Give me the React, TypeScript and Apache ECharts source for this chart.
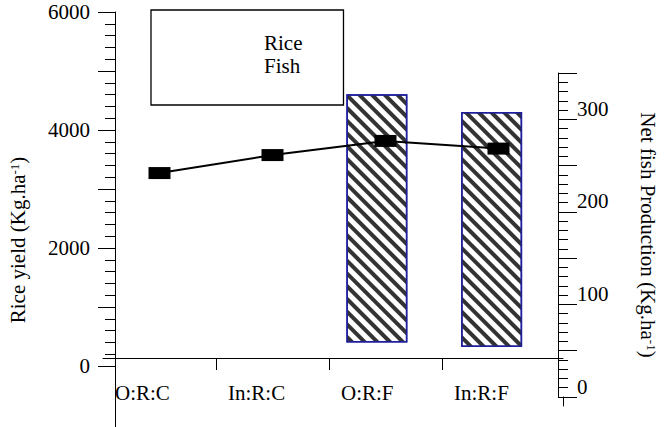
import React, { useEffect, useRef } from 'react';
import * as echarts from 'echarts';

const categories = ['O:R:C', 'In:R:C', 'O:R:F', 'In:R:F'];
const riceYield = [3270, 3575, 3815, 3685];
const fishLow: (number | null)[] = [null, null, 59, 54];
const fishHigh: (number | null)[] = [null, null, 327, 308];
const leftLabelStep = 2000;
const rightLabelStep = 100;

const FONT = 'Liberation Serif';

export default function App() {
  const ref = useRef<HTMLDivElement>(null);
  useEffect(() => {
    const chart = echarts.init(ref.current!, null, { renderer: 'svg' });
    const fishSpan = fishHigh.map((h, i) => {
      const l = fishLow[i];
      return h == null || l == null ? null : h - l;
    });
    const black = '#000';
    const txt = { fontFamily: FONT, fontSize: 21, color: black };
    chart.setOption({
      animation: false,
      backgroundColor: '#fff',
      grid: [
        { left: 103, right: 103, top: 12, bottom: 61 },
        { left: 90, right: 112, top: 73, bottom: 30 },
        { left: 115, width: 10, top: 366, bottom: 0 },
        { left: 553, width: 10, top: 397, height: 9 },
      ],
      legend: {
        data: [
          { name: 'Rice', itemStyle: { opacity: 0 }, lineStyle: { opacity: 0 } },
          { name: 'Fish', itemStyle: { opacity: 0, decal: 'none' } },
        ],
        orient: 'vertical',
        left: 151,
        top: 10,
        padding: [22, 41, 28, 107],
        itemGap: 1,
        itemWidth: 0,
        itemHeight: 1,
        icon: 'rect',
        selectedMode: false,
        borderColor: black,
        borderWidth: 1.3,
        itemStyle: { opacity: 0 },
        lineStyle: { opacity: 0 },
        textStyle: { ...txt, lineHeight: 22 },
      },
      xAxis: [
        {
          gridIndex: 0,
          type: 'value',
          min: 0,
          max: 460 / 113,
          offset: -8,
          axisLine: { show: true, onZero: false, lineStyle: { color: black, width: 1 } },
          splitLine: { show: false },
          axisTick: { show: true, customValues: [1, 2, 3], length: 12, lineStyle: { color: black } },
          axisLabel: {
            customValues: [0, 1, 2, 3],
            formatter: (v: number) => categories[Math.round(v)] ?? '',
            align: 'left',
            padding: [0, 0, 0, 12],
            margin: 24,
            ...txt,
          },
        },
        { gridIndex: 1, type: 'category', data: categories, show: false },
        { gridIndex: 2, type: 'value', show: false },
        { gridIndex: 3, type: 'value', show: false },
      ],
      yAxis: [
        {
          gridIndex: 0,
          type: 'value',
          position: 'left',
          min: 0,
          max: 6000,
          interval: 1000,
          offset: -12,
          axisLine: { show: true, onZero: false, lineStyle: { color: black, width: 1 } },
          axisTick: { show: true, length: 17, lineStyle: { color: black } },
          minorTick: { show: true, splitNumber: 5, length: 10, lineStyle: { color: black } },
          splitLine: { show: false },
          minorSplitLine: { show: false },
          axisLabel: {
            formatter: (v: number) => (v % leftLabelStep === 0 ? String(v) : ''),
            margin: 25,
            ...txt,
          },
        },
        {
          gridIndex: 1,
          type: 'value',
          position: 'right',
          min: 0,
          max: 350,
          interval: 50,
          offset: 9,
          axisLine: { show: true, onZero: false, lineStyle: { color: black, width: 1 } },
          axisTick: { show: true, length: 19, lineStyle: { color: black } },
          minorTick: { show: true, splitNumber: 5, length: 10, lineStyle: { color: black } },
          splitLine: { show: false },
          axisLabel: {
            formatter: (v: number) => (v % rightLabelStep === 0 ? String(v) : ''),
            verticalAlign: 'bottom',
            margin: 19,
            ...txt,
          },
          name: 'Net fish Production (Kg.ha{sup|-1})',
          nameLocation: 'middle',
          nameRotate: -90,
          nameGap: 79,
          nameTextStyle: {
            ...txt,
            rich: { sup: { fontFamily: FONT, fontSize: 13, verticalAlign: 'top', color: black } },
          },
        },
        {
          gridIndex: 2,
          type: 'value',
          position: 'left',
          axisLine: { show: true, onZero: false, lineStyle: { color: black, width: 1 } },
          axisTick: { show: false },
          axisLabel: { show: false },
          splitLine: { show: false },
        },
        {
          gridIndex: 3,
          type: 'value',
          position: 'right',
          axisLine: { show: true, onZero: false, lineStyle: { color: black, width: 1 } },
          axisTick: { show: false },
          axisLabel: { show: false },
          splitLine: { show: false },
        },
      ],
      graphic: [
        {
          type: 'text',
          x: 18,
          y: 240,
          rotation: Math.PI / 2,
          style: {
            text: 'Rice yield (Kg.ha{sup|-1})',
            fontFamily: FONT,
            fontSize: 21,
            fill: black,
            align: 'center',
            verticalAlign: 'middle',
            rich: { sup: { fontFamily: FONT, fontSize: 13, verticalAlign: 'top', fill: black } },
          },
        },
      ],
      series: [
        {
          name: 'base',
          type: 'bar',
          xAxisIndex: 1,
          yAxisIndex: 1,
          stack: 'fish',
          data: fishLow,
          barWidth: 61,
          silent: true,
          itemStyle: { color: 'rgba(0,0,0,0)' },
        },
        {
          name: 'Fish',
          type: 'bar',
          xAxisIndex: 1,
          yAxisIndex: 1,
          stack: 'fish',
          data: fishSpan,
          barWidth: 61,
          itemStyle: {
            color: '#fff',
            borderColor: '#1f1f9e',
            borderWidth: 1.5,
            decal: {
              symbol: 'rect',
              symbolSize: 1,
              dashArrayX: [1, 0],
              dashArrayY: [4, 5],
              rotation: Math.PI / 4,
              color: '#333',
            },
          },
        },
        {
          name: 'Rice',
          type: 'line',
          xAxisIndex: 0,
          yAxisIndex: 0,
          data: riceYield.map((v, i) => [i + 0.5, v]),
          symbol: 'rect',
          symbolSize: [22, 12],
          showSymbol: true,
          lineStyle: { color: black, width: 2 },
          itemStyle: { color: black },
          z: 5,
        },
      ],
    });
    return () => chart.dispose();
  }, []);
  return <div ref={ref} style={{ position: 'fixed', left: 0, top: 0, width: 666, height: 427 }} />;
}
